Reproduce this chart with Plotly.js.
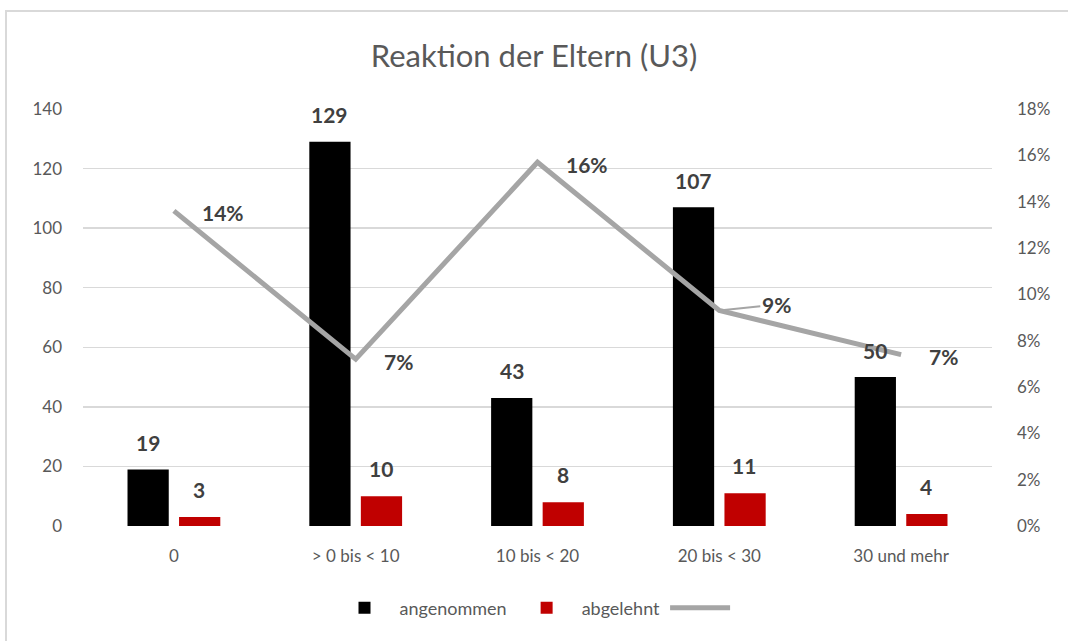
<!DOCTYPE html>
<html><head><meta charset="utf-8">
<script src="https://cdn.plot.ly/plotly-3.0.1.min.js"></script>
<style>
html,body{margin:0;padding:0;background:#fff;overflow:hidden}
#chart{width:1068px;height:641px}
#frame{position:absolute;left:5px;top:10px;width:1100px;height:700px;border:2px solid #d9d9d9;pointer-events:none}
</style></head>
<body>
<div id="chart"></div>
<div id="frame"></div>
<script>
const categories = ['0', '> 0 bis < 10', '10 bis < 20', '20 bis < 30', '30 und mehr'];
const angenommen = [19, 129, 43, 107, 50];
const abgelehnt = [3, 10, 8, 11, 4];
const anteil = [0.136, 0.072, 0.157, 0.093, 0.074];
const anteilLabels = ['14%', '7%', '16%', '9%', '7%'];
const leftTicks = [0, 20, 40, 60, 80, 100, 120, 140];
const rightTicks = [0, 0.02, 0.04, 0.06, 0.08, 0.10, 0.12, 0.14, 0.16, 0.18];

const FONT = 'Lato, "Open Sans", sans-serif';
const labelFont = {family: FONT, size: 21, color: '#404040', weight: 700};

const traces = [
  {type: 'bar', name: 'angenommen', x: categories, y: angenommen, marker: {color: '#000000'}, hoverinfo: 'skip'},
  {type: 'bar', name: 'abgelehnt', x: categories, y: abgelehnt, marker: {color: '#C00000'}, hoverinfo: 'skip'},
  {type: 'scatter', mode: 'lines', name: ' ', x: categories, y: anteil, yaxis: 'y2',
   line: {color: '#A5A5A5', width: 5}, hoverinfo: 'skip'}
];

const annotations = [];
categories.forEach((c, i) => {
  annotations.push({x: c, y: angenommen[i], xref: 'x', yref: 'y', text: '<b>' + angenommen[i] + '</b>',
    showarrow: false, xshift: -26, yshift: 27, yanchor: 'middle', font: labelFont});
  annotations.push({x: c, y: abgelehnt[i], xref: 'x', yref: 'y', text: '<b>' + abgelehnt[i] + '</b>',
    showarrow: false, xshift: 25, yshift: 28, yanchor: 'middle', font: labelFont});
  if (i === 3) {
    annotations.push({x: c, y: anteil[i], xref: 'x', yref: 'y2', text: '<b>' + anteilLabels[i] + '</b>',
      showarrow: true, arrowhead: 0, arrowwidth: 2, arrowcolor: '#A5A5A5', ax: 57, ay: -6, standoff: 0,
      font: labelFont});
  } else {
    annotations.push({x: c, y: anteil[i], xref: 'x', yref: 'y2', text: '<b>' + anteilLabels[i] + '</b>',
      showarrow: false, xanchor: 'left', xshift: 26, yshift: -2, font: labelFont});
  }
});

const layout = {
  width: 1068, height: 641,
  margin: {l: 83, r: 76, t: 109, b: 115},
  paper_bgcolor: '#ffffff', plot_bgcolor: '#ffffff',
  font: {family: FONT, color: '#595959', size: 17},
  title: {text: 'Reaktion der Eltern (U3)', x: 0.5, xanchor: 'center', y: 0.912, yanchor: 'middle',
    font: {family: FONT, size: 31, color: '#595959'}},
  barmode: 'group', bargap: 0.433, bargroupgap: 0.2,
  showlegend: true,
  legend: {orientation: 'h', x: 0.5, xanchor: 'center', y: -0.197, yanchor: 'middle', itemwidth: 60,
    font: {family: FONT, size: 18, color: '#595959'}, traceorder: 'normal'},
  xaxis: {type: 'category', showgrid: false, zeroline: false, showline: false, ticks: '',
    tickfont: {family: FONT, size: 17, color: '#595959'}, ticklabelstandoff: 18, fixedrange: true},
  yaxis: {range: [0, 140], tickvals: leftTicks, showgrid: true, gridcolor: '#D9D9D9', gridwidth: 1.5,
    zeroline: false, showline: false, ticks: '', ticklabelstandoff: 20,
    tickfont: {family: FONT, size: 17, color: '#595959'}, fixedrange: true},
  yaxis2: {range: [0, 0.18], tickvals: rightTicks, tickformat: '.0%', overlaying: 'y', side: 'right',
    showgrid: false, zeroline: false, showline: false, ticks: '', ticklabelstandoff: 24,
    tickfont: {family: FONT, size: 17, color: '#595959'}, fixedrange: true},
  annotations: annotations
};

Plotly.newPlot('chart', traces, layout, {displayModeBar: false, staticPlot: true});
</script>
</body></html>
